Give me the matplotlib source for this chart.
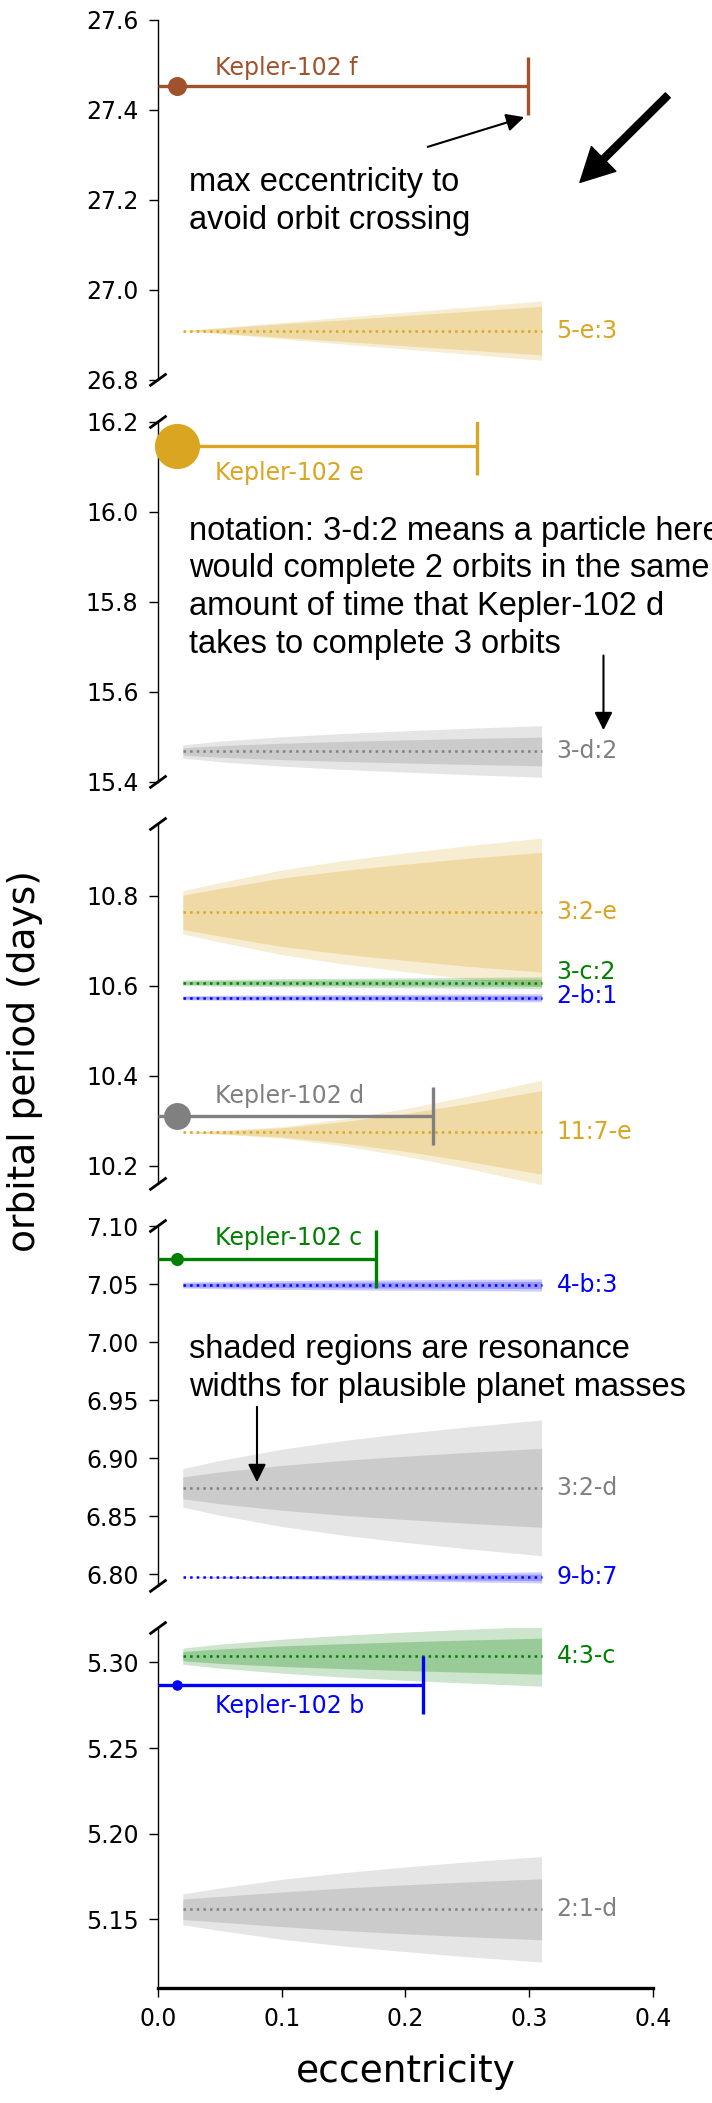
import numpy as np
import matplotlib
matplotlib.use('Agg')
import matplotlib.pyplot as plt

plt.rcParams['font.family'] = 'DejaVu Sans'

# planets (Kepler-102 b..f)
planet_names = ['Kepler-102 b', 'Kepler-102 c', 'Kepler-102 d', 'Kepler-102 e', 'Kepler-102 f']
planet_period = [5.2869, 7.0714, 10.3118, 16.1457, 27.4536]
planet_ecc = [0.015, 0.015, 0.015, 0.015, 0.015]
planet_emax = [0.2144, 0.176, 0.2225, 0.258, 0.299]
planet_size = [7.6, 9.4, 19.4, 32.5, 13.7]
planet_color = ['blue', 'green', 'gray', 'goldenrod', 'sienna']
planet_panel = [4, 3, 2, 1, 0]
planet_label_e = [0.046, 0.046, 0.046, 0.046, 0.046]
planet_label_p = [5.2707, 7.084, 10.34, 16.07, 27.477]

# resonances
res_names = ['5-e:3', '3-d:2', '3:2-e', '3-c:2', '2-b:1', '11:7-e',
             '4-b:3', '3:2-d', '9-b:7', '4:3-c', '2:1-d']
res_period = [26.9095, 15.4677, 10.7638, 10.6071, 10.5738, 10.2745,
              7.0492, 6.8745, 6.7974, 5.3036, 5.1559]
res_label_p = [26.9095, 15.4677, 10.7638, 10.630, 10.577, 10.2745,
               7.0492, 6.8745, 6.7974, 5.3036, 5.1559]
res_color = ['goldenrod', 'gray', 'goldenrod', 'green', 'blue', 'goldenrod',
             'blue', 'gray', 'blue', 'green', 'gray']
res_panel = [0, 1, 2, 2, 2, 2, 3, 3, 3, 4, 4]

# resonance half-widths (days) read at these eccentricities
band_ecc = [0.02, 0.05, 0.1, 0.15, 0.2, 0.25, 0.31]
outer_5e3 = [0.0, 0.0068, 0.018, 0.030, 0.041, 0.052, 0.066]
inner_5e3 = [0.0, 0.0056, 0.015, 0.024, 0.0335, 0.043, 0.054]
outer_3d2 = [0.0146, 0.023, 0.0326, 0.040, 0.046, 0.0515, 0.0574]
inner_3d2 = [0.0081, 0.0129, 0.0182, 0.0223, 0.0257, 0.0287, 0.032]
outer_32e = [0.048, 0.066, 0.094, 0.115, 0.132, 0.148, 0.165]
inner_32e = [0.038, 0.053, 0.076, 0.093, 0.107, 0.120, 0.133]
outer_3c2 = [0.006, 0.0075, 0.009, 0.010, 0.011, 0.012, 0.013]
inner_3c2 = [0.0035, 0.0045, 0.0055, 0.006, 0.0068, 0.0074, 0.008]
outer_2b1 = [0.0045, 0.0055, 0.0065, 0.0072, 0.0078, 0.0084, 0.009]
inner_2b1 = [0.0025, 0.003, 0.0036, 0.004, 0.0044, 0.0047, 0.005]
outer_117e = [0.0, 0.004, 0.0127, 0.030, 0.053, 0.080, 0.116]
inner_117e = [0.0, 0.003, 0.010, 0.024, 0.042, 0.064, 0.093]
outer_4b3 = [0.0026, 0.0032, 0.0038, 0.0042, 0.0045, 0.0049, 0.0052]
inner_4b3 = [0.0015, 0.0018, 0.0022, 0.0024, 0.0026, 0.0028, 0.003]
outer_32d = [0.0166, 0.0236, 0.0333, 0.0408, 0.047, 0.0525, 0.0585]
inner_32d = [0.0094, 0.0137, 0.0193, 0.0237, 0.0273, 0.0305, 0.034]
outer_9b7 = [0.0, 0.0005, 0.0013, 0.0022, 0.003, 0.0039, 0.0048]
inner_9b7 = [0.0, 0.0003, 0.0008, 0.0013, 0.0018, 0.0023, 0.0028]
outer_43c = [0.0047, 0.007, 0.0099, 0.0122, 0.0141, 0.0157, 0.0175]
inner_43c = [0.0027, 0.0042, 0.006, 0.0073, 0.0084, 0.0094, 0.0105]
outer_21d = [0.009, 0.0124, 0.0175, 0.0214, 0.0247, 0.0277, 0.0308]
inner_21d = [0.006, 0.0075, 0.0101, 0.0124, 0.0143, 0.016, 0.0178]

res_outer = [outer_5e3, outer_3d2, outer_32e, outer_3c2, outer_2b1, outer_117e,
             outer_4b3, outer_32d, outer_9b7, outer_43c, outer_21d]
res_inner = [inner_5e3, inner_3d2, inner_32e, inner_3c2, inner_2b1, inner_117e,
             inner_4b3, inner_32d, inner_9b7, inner_43c, inner_21d]

# panel limits and ticks (top to bottom)
panel_ylim = [(26.8, 27.6), (15.4, 16.2), (10.16, 10.96), (6.79, 7.10), (5.11, 5.32)]
panel_yticks = [[26.8, 27.0, 27.2, 27.4, 27.6],
                [15.4, 15.6, 15.8, 16.0, 16.2],
                [10.2, 10.4, 10.6, 10.8],
                [6.80, 6.85, 6.90, 6.95, 7.00, 7.05, 7.10],
                [5.15, 5.20, 5.25, 5.30]]
xticks = [0.0, 0.1, 0.2, 0.3, 0.4]

note_font = 'Liberation Sans'
note_size = 23.5
note_spacing = 1.28

fig = plt.figure(figsize=(7.12, 21.03), dpi=100)
gs = fig.add_gridspec(5, 1, left=0.2219, right=0.9171, top=0.9905, bottom=0.0547,
                      hspace=0.117)
axes = [fig.add_subplot(gs[i]) for i in range(5)]

be = np.array(band_ecc)
for i in range(len(res_names)):
    ax = axes[res_panel[i]]
    p = res_period[i]
    c = res_color[i]
    o = np.array(res_outer[i])
    n = np.array(res_inner[i])
    ax.fill_between(be, p - o, p + o, color=c, alpha=0.2, lw=0, zorder=1)
    ax.fill_between(be, p - n, p + n, color=c, alpha=0.25, lw=0, zorder=1)
    ax.plot([be[0], be[-1]], [p, p], ls=':', lw=1.8, color=c, zorder=2)
    ax.text(0.322, res_label_p[i], res_names[i], color=c, fontsize=17,
            va='center', ha='left')

for i in range(len(planet_names)):
    ax = axes[planet_panel[i]]
    p = planet_period[i]
    c = planet_color[i]
    ax.plot([0, planet_emax[i]], [p, p], color=c, lw=2.4, zorder=3,
            solid_capstyle='butt')
    ax.plot([planet_emax[i]], [p], marker='|', ms=41.5, mew=2.4, color=c, zorder=3)
    ax.plot([planet_ecc[i]], [p], marker='o', ms=planet_size[i], color=c,
            mec='none', zorder=4, clip_on=False)
    ax.text(planet_label_e[i], planet_label_p[i], planet_names[i], color=c,
            fontsize=17, va='baseline', ha='left')

d = .015
for i, ax in enumerate(axes):
    ax.set_xlim(0, 0.4)
    ax.set_ylim(*panel_ylim[i])
    ax.set_yticks(panel_yticks[i])
    ax.spines['top'].set_visible(False)
    ax.spines['right'].set_visible(False)
    ax.spines['left'].set_linewidth(1.0)
    ax.tick_params(axis='y', labelsize=17, length=6.3, width=1.0, pad=7.7)
    kw = dict(transform=ax.transAxes, color='k', clip_on=False, lw=2)
    if i > 0:
        ax.plot((-d, d), (1 - d, 1 + d), **kw)
    if i < 4:
        ax.plot((-d, d), (-d, d), **kw)
        ax.spines['bottom'].set_visible(False)
        ax.tick_params(axis='x', bottom=False, labelbottom=False)

axb = axes[4]
axb.spines['bottom'].set_linewidth(2.4)
axb.set_xticks(xticks)
axb.set_xticklabels(['0.0', '0.1', '0.2', '0.3', '0.4'])
axb.tick_params(axis='x', labelsize=17, length=6.3, width=1.0, pad=7.7)
axb.set_xlabel('eccentricity', fontsize=27, labelpad=16)

fig.text(0.035, 0.4955, 'orbital period (days)', rotation=90, fontsize=27,
         ha='center', va='center')

# annotations (multi-line texts are anchored on the baseline of their last line)
ax = axes[0]
ax.text(0.025, 27.135, 'max eccentricity to\navoid orbit crossing', family=note_font,
        fontsize=note_size, va='baseline', ha='left', linespacing=note_spacing)
ax.annotate('', xy=(0.296, 27.384), xytext=(0.218, 27.318),
            arrowprops=dict(arrowstyle='-|>', color='k', lw=1.5, mutation_scale=27,
                            shrinkA=0, shrinkB=0))
ax.annotate('', xy=(0.341, 27.239), xytext=(0.412, 27.4325),
            arrowprops=dict(facecolor='black', edgecolor='black', width=5,
                            headwidth=25, headlength=24, shrink=0),
            annotation_clip=False)

ax = axes[1]
ax.text(0.025, 15.687, 'notation: 3-d:2 means a particle here\n'
        'would complete 2 orbits in the same\n'
        'amount of time that Kepler-102 d\n'
        'takes to complete 3 orbits', family=note_font,
        fontsize=note_size, va='baseline', ha='left', linespacing=note_spacing)
ax.annotate('', xy=(0.36, 15.515), xytext=(0.36, 15.681),
            arrowprops=dict(arrowstyle='-|>', color='k', lw=1.5, mutation_scale=27,
                            shrinkA=0, shrinkB=0))

ax = axes[3]
ax.text(0.025, 6.954, 'shaded regions are resonance\n'
        'widths for plausible planet masses', family=note_font,
        fontsize=note_size, va='baseline', ha='left', linespacing=note_spacing)
ax.annotate('', xy=(0.08, 6.8794), xytext=(0.08, 6.9443),
            arrowprops=dict(arrowstyle='-|>', color='k', lw=1.5, mutation_scale=27,
                            shrinkA=0, shrinkB=0))

plt.savefig('out.png', dpi=100)
